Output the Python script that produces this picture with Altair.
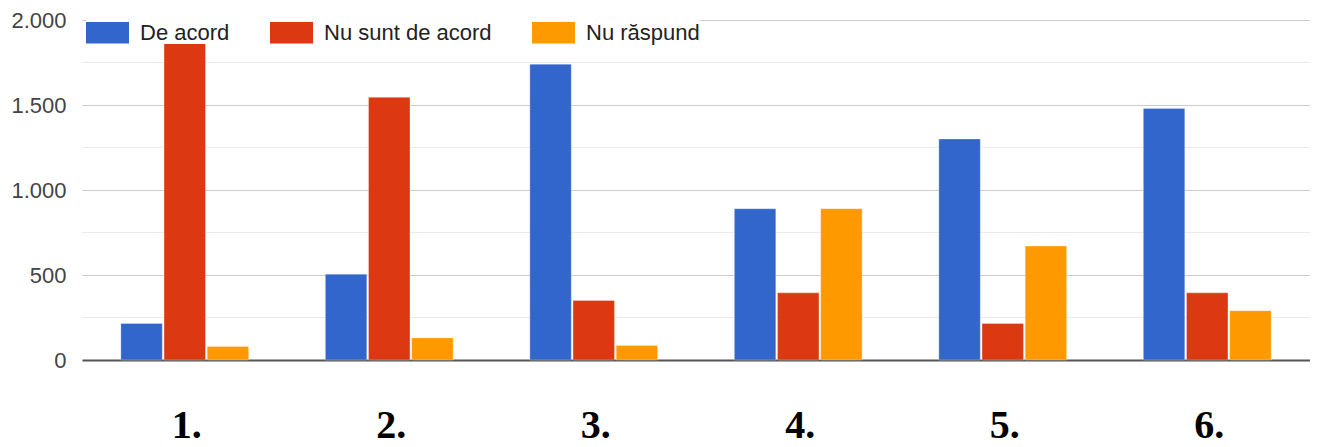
import altair as alt
import pandas as pd

categories = ["1.", "2.", "3.", "4.", "5.", "6."]
series = ["De acord", "Nu sunt de acord", "Nu răspund"]
de_acord = [215, 505, 1740, 890, 1300, 1480]
nu_sunt = [1870, 1545, 350, 395, 215, 395]
nu_raspund = [80, 130, 85, 890, 670, 290]
colors = ["#3366cc", "#dc3912", "#ff9900"]
major_ticks = [0, 500, 1000, 1500, 2000]
minor_ticks = [250, 750, 1250, 1750]

rows = []
for i, c in enumerate(categories):
    for s, vals in zip(series, [de_acord, nu_sunt, nu_raspund]):
        rows.append({"cat": c, "series": s, "value": vals[i]})
df = pd.DataFrame(rows)
minor_df = pd.DataFrame({"v": minor_ticks})

yscale = alt.Scale(domain=[0, 2000], nice=False)
yaxis = alt.Axis(values=major_ticks, domain=False, ticks=False,
                 labelExpr="replace(format(datum.value, ','), ',', '.')",
                 labelFont="Liberation Sans", labelFontSize=22, labelColor="#444444",
                 labelPadding=16, gridColor="#cccccc", gridWidth=1)

minor = alt.Chart(minor_df).mark_rule(color="#ebebeb", strokeWidth=1).encode(
    y=alt.Y("v:Q", scale=yscale, axis=yaxis, title=None)
)

bars = alt.Chart(df).mark_bar(stroke="#ffffff", strokeWidth=0.6, strokeOpacity=0.5).encode(
    x=alt.X("cat:N", sort=categories, title=None,
            scale=alt.Scale(paddingInner=0.375, paddingOuter=0.19),
            axis=alt.Axis(labelAngle=0, labelFont="Liberation Serif", labelFontWeight="bold",
                          labelFontSize=40, labelColor="#000000", labelPadding=45,
                          labelOffset=2,
                          ticks=False, domainColor="#555555", domainWidth=2, grid=False)),
    xOffset=alt.XOffset("series:N", sort=series, scale=alt.Scale(paddingInner=0.04)),
    y=alt.Y("value:Q", scale=yscale, title=None, axis=yaxis),
    color=alt.Color("series:N", sort=series,
                    scale=alt.Scale(domain=series, range=colors),
                    legend=alt.Legend(title=None, orient="none", direction="horizontal",
                                      legendX=4, legendY=-9,
                                      symbolType="M-1,-0.5H1V0.5H-1Z", symbolSize=1849,
                                      symbolStrokeWidth=0, symbolOpacity=1,
                                      labelFont="Liberation Sans", labelFontSize=22,
                                      labelColor="#222222", labelOffset=11, labelLimit=400,
                                      columnPadding=40, fillColor="#ffffff", padding=0)),
)

chart = alt.layer(minor, bars).properties(
    width=1228, height=340,
    autosize=alt.AutoSizeParams(type="none"),
    padding={"left": 74, "top": 12, "right": 0, "bottom": 86},
).configure_view(stroke=None)

chart.save("out.html", embed_options={"renderer": "svg", "actions": False})
